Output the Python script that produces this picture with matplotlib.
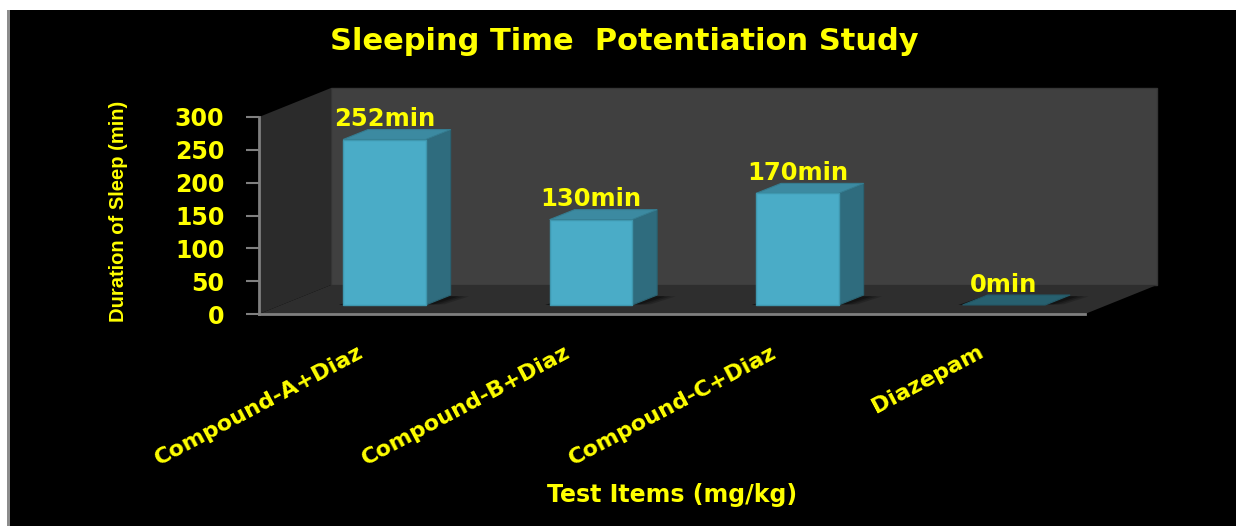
import matplotlib.pyplot as plt
from matplotlib.patches import Polygon, Rectangle

# sleep duration per test item
categories = ["Compound-A+Diaz", "Compound-B+Diaz", "Compound-C+Diaz", "Diazepam"]
sleep_minutes = [252, 130, 170, 0]
bar_labels = ["252min", "130min", "170min", "0min"]
y_ticks = [0, 50, 100, 150, 200, 250, 300]

W, H = 1236, 526
YELLOW = "#ffff00"
plt.rcParams["font.family"] = ["DejaVu Sans"]

fig = plt.figure(figsize=(W / 100, H / 100), dpi=100, facecolor="white")

# black chart area, thin grey rule down the left edge
fig.patches.append(Rectangle((10 / W, 0), 1 - 10 / W, 1 - 10 / H, transform=fig.transFigure,
                             facecolor="black", edgecolor="none", zorder=-10))
fig.patches.append(Rectangle((7 / W, 0), 3 / W, 1 - 10 / H, transform=fig.transFigure,
                             facecolor="#8c8c8c", edgecolor="none", zorder=-9))

ax = fig.add_axes([259 / W, (H - 314) / H, 826 / W, 197 / H])
ax.set_xlim(0, len(categories))
ax.set_ylim(0, 300)
ax.set_facecolor("none")

# fake 3d box: depth of the floor and of each column, in data units
depth_dx, depth_dy = 0.349, 44.2
front_dx, front_dy = 0.107, 13.7
bar_w = 0.4
bar_dx, bar_dy = 0.121, 15.2
n = len(categories)
ymax = ax.get_ylim()[1]

# back wall, side wall, floor
ax.add_patch(Rectangle((depth_dx, depth_dy), n, ymax, facecolor="#404040",
                       edgecolor="#363636", lw=1, clip_on=False, zorder=0))
ax.add_patch(Polygon([(0, 0), (0, ymax), (depth_dx, ymax + depth_dy), (depth_dx, depth_dy)],
                     closed=True, facecolor="#2b2b2b", edgecolor="none", clip_on=False, zorder=0))
ax.add_patch(Polygon([(0, 0), (n, 0), (n + depth_dx, depth_dy), (depth_dx, depth_dy)],
                     closed=True, facecolor="#2e2e2e", edgecolor="none", clip_on=False, zorder=0))

for i, (v, lab) in enumerate(zip(sleep_minutes, bar_labels)):
    x0 = i + 0.5 + front_dx - bar_w / 2
    x1 = x0 + bar_w
    y0 = front_dy
    y1 = y0 + v

    # soft shadow on the floor
    for k, a in enumerate([0.18, 0.22, 0.3]):
        s = 0.09 - k * 0.025
        ax.add_patch(Polygon([(x0 - 0.02, y0), (x1 + s, y0 + 1), (x1 + bar_dx + s, y0 + bar_dy - 2),
                              (x0 + bar_dx, y0 + bar_dy)], closed=True, facecolor="black",
                             edgecolor="none", alpha=a, clip_on=False, zorder=1))

    top = [(x0, y1), (x1, y1), (x1 + bar_dx, y1 + bar_dy), (x0 + bar_dx, y1 + bar_dy)]
    if v > 0:
        ax.add_patch(Polygon([(x1, y0), (x1, y1), (x1 + bar_dx, y1 + bar_dy), (x1 + bar_dx, y0 + bar_dy)],
                             closed=True, facecolor="#2f6c7e", edgecolor="#2a6170", lw=0.8,
                             clip_on=False, zorder=2))
        ax.add_patch(Polygon(top, closed=True, facecolor="#3c8aa1", edgecolor="#357c90", lw=0.8,
                             clip_on=False, zorder=2))
        ax.add_patch(Rectangle((x0, y0), bar_w, v, facecolor="#4aacc7", edgecolor="#3f97ae",
                               lw=1, clip_on=False, zorder=3))
    else:
        ax.add_patch(Polygon(top, closed=True, facecolor="#27606f", edgecolor="#245866", lw=0.8,
                             clip_on=False, zorder=2))

    ax.text(i + 0.5 + front_dx, y1 + 20.5, lab, ha="center", va="baseline",
            color=YELLOW, fontsize=17.5, fontweight="bold", zorder=5)

# axes lines and ticks
for side in ["top", "right"]:
    ax.spines[side].set_visible(False)
for side in ["left", "bottom"]:
    ax.spines[side].set_color("#7f7f7f")
    ax.spines[side].set_linewidth(2)
    ax.spines[side].set_zorder(4)

ax.set_yticks(y_ticks)
ax.tick_params(axis="y", direction="out", length=9.5, width=1.5, color="#7f7f7f",
               pad=15.5, labelcolor=YELLOW, labelsize=17)
for t in ax.get_yticklabels():
    t.set_fontweight("bold")

ax.set_xticks([i + 0.5 for i in range(n)])
ax.set_xticklabels(categories, rotation=28, ha="right", va="center", rotation_mode="anchor",
                   color=YELLOW, fontsize=16, fontweight="bold")
ax.tick_params(axis="x", length=0, pad=26.5)

fig.text(624 / W, 1 - 42 / H, "Sleeping Time  Potentiation Study", ha="center", va="center",
         color=YELLOW, fontsize=22, fontweight="bold")
fig.text(119 / W, 1 - 211 / H, "Duration of Sleep (min)", ha="center", va="center", rotation=90,
         color=YELLOW, fontsize=14.5, fontweight="bold", family=["Liberation Sans", "DejaVu Sans"])
fig.text(672 / W, 1 - 495 / H, "Test Items (mg/kg)", ha="center", va="center",
         color=YELLOW, fontsize=17, fontweight="bold")

fig.savefig("out.png", dpi=100, facecolor=fig.get_facecolor())
